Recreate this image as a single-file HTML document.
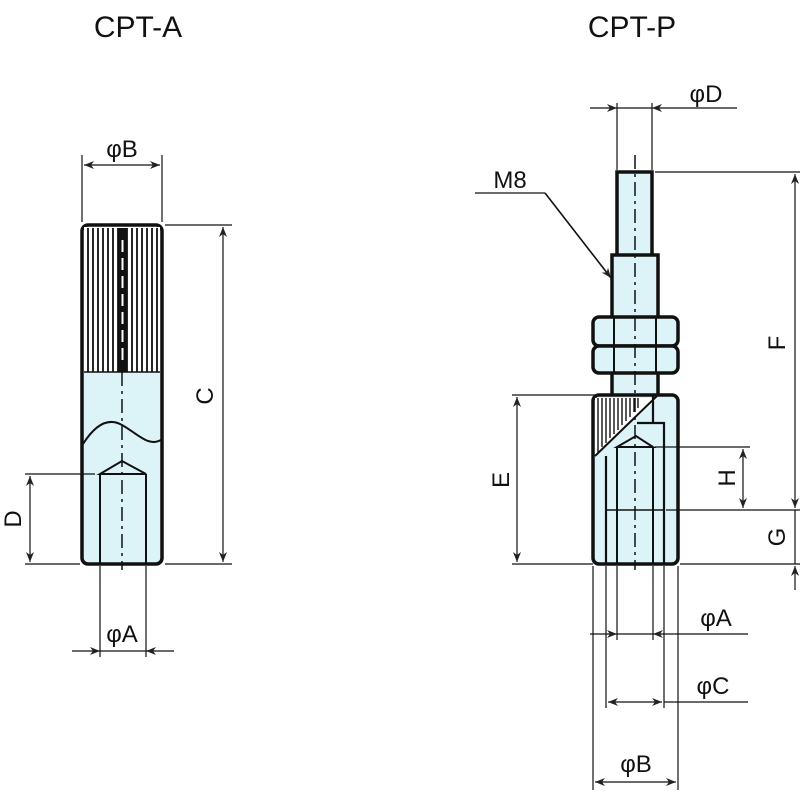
<!DOCTYPE html>
<html><head><meta charset="utf-8"><style>
html,body{margin:0;padding:0;background:#fff;}
svg{display:block;}
text{font-family:"Liberation Sans",sans-serif;fill:#111;}
</style></head><body>
<svg width="800" height="800" viewBox="0 0 800 800" xmlns="http://www.w3.org/2000/svg">
<defs>
<marker id="a" viewBox="0 0 10 10" refX="10" refY="5" markerWidth="10" markerHeight="10" orient="auto-start-reverse" markerUnits="userSpaceOnUse"><path d="M0,1 L10,5 L0,9 L3,5 Z" fill="#222"/></marker>
</defs>
<text x="138" y="37" font-size="30" text-anchor="middle">CPT-A</text>
<text x="632" y="37" font-size="30" text-anchor="middle">CPT-P</text>

<!-- LEFT -->
<g stroke="#111" fill="none">
<rect x="82" y="225" width="80" height="339" rx="6" fill="#dcf3f7" stroke-width="3.5"/>
<rect x="84" y="227" width="76" height="145" fill="#fff" stroke="none"/>
<g stroke-width="1.8">
<line x1="88" y1="228" x2="88" y2="372"/><line x1="93" y1="228" x2="93" y2="372"/><line x1="98" y1="228" x2="98" y2="372"/><line x1="103" y1="228" x2="103" y2="372"/><line x1="108" y1="228" x2="108" y2="372"/><line x1="113" y1="228" x2="113" y2="372"/><line x1="118" y1="228" x2="118" y2="372"/><line x1="127" y1="228" x2="127" y2="372"/><line x1="132" y1="228" x2="132" y2="372"/><line x1="137" y1="228" x2="137" y2="372"/><line x1="142" y1="228" x2="142" y2="372"/><line x1="147" y1="228" x2="147" y2="372"/><line x1="152" y1="228" x2="152" y2="372"/><line x1="157" y1="228" x2="157" y2="372"/>
</g>
<line x1="84" y1="372" x2="160" y2="372" stroke-width="1.5"/>
<rect x="118" y="228" width="9" height="144" fill="#111" stroke="none"/>
<line x1="122.5" y1="240" x2="122.5" y2="365" stroke="#fff" stroke-width="2" stroke-dasharray="12,6"/>
<path d="M83,444 C95,425 108,417 122,425 C138,434 148,447 161,440" stroke-width="2"/>
<path d="M100,474 L122,461 L146,474 Z M100,474 V564 M146,474 V564" stroke-width="2"/>
<line x1="122" y1="372" x2="122" y2="570" stroke-width="1.5" stroke-dasharray="14,5,3,5"/>
<g stroke-width="1.2">
<line x1="82" y1="222" x2="82" y2="155"/><line x1="162" y1="222" x2="162" y2="155"/>
<line x1="84" y1="165" x2="160" y2="165" marker-start="url(#a)" marker-end="url(#a)"/>
<line x1="165" y1="225" x2="232" y2="225"/><line x1="165" y1="564" x2="232" y2="564"/>
<line x1="223" y1="227" x2="223" y2="562" marker-start="url(#a)" marker-end="url(#a)"/>
<line x1="25" y1="474" x2="95" y2="474"/><line x1="25" y1="564" x2="80" y2="564"/>
<line x1="30" y1="476" x2="30" y2="562" marker-start="url(#a)" marker-end="url(#a)"/>
<line x1="100" y1="566" x2="100" y2="657"/><line x1="146" y1="566" x2="146" y2="657"/>
<line x1="72" y1="651" x2="100" y2="651" marker-end="url(#a)"/><line x1="174" y1="651" x2="146" y2="651" marker-end="url(#a)"/>
<line x1="100" y1="651" x2="146" y2="651"/>
</g>
</g>
<text x="122" y="157" font-size="24" text-anchor="middle">φB</text>
<text x="122" y="642" font-size="24" text-anchor="middle">φA</text>
<text transform="translate(213,396) rotate(-90)" font-size="24" text-anchor="middle">C</text>
<text transform="translate(21,519) rotate(-90)" font-size="24" text-anchor="middle">D</text>

<!-- RIGHT -->
<g stroke="#111" fill="#dcf3f7">
<rect x="617" y="172" width="35" height="84" stroke-width="3.5"/>
<rect x="612" y="255" width="46" height="63" stroke-width="3.5"/>
<rect x="612" y="372" width="46" height="24" stroke-width="3.5"/>
<rect x="593" y="317" width="85" height="29" rx="6" stroke-width="3.5"/>
<rect x="593" y="346" width="85" height="27" rx="6" stroke-width="3.5"/>
<line x1="614" y1="318" x2="614" y2="372" stroke-width="2"/><line x1="656" y1="318" x2="656" y2="372" stroke-width="2"/>
<rect x="593" y="395" width="85" height="169" rx="6" stroke-width="3.5"/>
</g>
<g stroke="#111" fill="none">
<path d="M595,455 L595,398 L658,398 Z" fill="#fff" stroke="none"/>
<g stroke-width="1.4">
<line x1="598" y1="398" x2="598" y2="452"/><line x1="602" y1="398" x2="602" y2="447"/><line x1="606" y1="398" x2="606" y2="443"/><line x1="610" y1="398" x2="610" y2="438"/><line x1="614" y1="398" x2="614" y2="434"/><line x1="618" y1="398" x2="618" y2="430"/><line x1="622" y1="398" x2="622" y2="425"/><line x1="626" y1="398" x2="626" y2="421"/><line x1="630" y1="398" x2="630" y2="417"/><line x1="634" y1="398" x2="634" y2="412"/><line x1="638" y1="398" x2="638" y2="408"/>
</g>
<path d="M595,456 L657,396" stroke-width="2"/>
<path d="M653,396 V423 M637,423 H664 V564 M606,456 V564" stroke-width="2.2"/>
<path d="M617,447 L636,436 L653,447 Z M617,447 V564 M653,447 V564" stroke-width="2"/>
<line x1="606" y1="510" x2="664" y2="510" stroke-width="1.5"/>
<line x1="635" y1="155" x2="635" y2="570" stroke-width="1.5" stroke-dasharray="14,5,3,5"/>
<g stroke-width="1.2">
<line x1="617" y1="103" x2="617" y2="170"/><line x1="652" y1="103" x2="652" y2="170"/>
<line x1="590" y1="108" x2="617" y2="108" marker-end="url(#a)"/><line x1="737" y1="108" x2="652" y2="108" marker-end="url(#a)"/>
<line x1="617" y1="108" x2="652" y2="108"/>
<line x1="475" y1="193" x2="545" y2="193"/><line x1="545" y1="193" x2="611" y2="278" marker-end="url(#a)" stroke-width="1.6"/>
<line x1="655" y1="172" x2="800" y2="172"/>
<line x1="795" y1="174" x2="795" y2="508" marker-start="url(#a)" marker-end="url(#a)"/>
<line x1="666" y1="510" x2="800" y2="510"/>
<line x1="680" y1="564" x2="800" y2="564"/>
<line x1="795" y1="510" x2="795" y2="564"/>
<line x1="795" y1="590" x2="795" y2="566" marker-end="url(#a)"/>
<line x1="512" y1="395" x2="610" y2="395"/><line x1="512" y1="564" x2="593" y2="564"/>
<line x1="517" y1="397" x2="517" y2="562" marker-start="url(#a)" marker-end="url(#a)"/>
<line x1="655" y1="447" x2="750" y2="447"/>
<line x1="743" y1="449" x2="743" y2="508" marker-start="url(#a)" marker-end="url(#a)"/>
<line x1="593" y1="566" x2="593" y2="790"/><line x1="678" y1="566" x2="678" y2="790"/>
<line x1="606" y1="566" x2="606" y2="708"/><line x1="664" y1="566" x2="664" y2="708"/>
<line x1="617" y1="566" x2="617" y2="640"/><line x1="653" y1="566" x2="653" y2="640"/>
<line x1="590" y1="634" x2="617" y2="634" marker-end="url(#a)"/><line x1="748" y1="634" x2="653" y2="634" marker-end="url(#a)"/>
<line x1="617" y1="634" x2="653" y2="634"/>
<line x1="608" y1="702" x2="662" y2="702" marker-start="url(#a)" marker-end="url(#a)"/>
<line x1="664" y1="702" x2="748" y2="702"/>
<line x1="595" y1="782" x2="676" y2="782" marker-start="url(#a)" marker-end="url(#a)"/>
</g>
</g>
<text x="706" y="102" font-size="24" text-anchor="middle">φD</text>
<text x="510" y="188" font-size="24" text-anchor="middle">M8</text>
<text transform="translate(785,343) rotate(-90)" font-size="24" text-anchor="middle">F</text>
<text transform="translate(785,537) rotate(-90)" font-size="24" text-anchor="middle">G</text>
<text transform="translate(509,480) rotate(-90)" font-size="24" text-anchor="middle">E</text>
<text transform="translate(735,478) rotate(-90)" font-size="24" text-anchor="middle">H</text>
<text x="716" y="626" font-size="24" text-anchor="middle">φA</text>
<text x="713" y="694" font-size="24" text-anchor="middle">φC</text>
<text x="636" y="772" font-size="24" text-anchor="middle">φB</text>
</svg>
</body></html>
